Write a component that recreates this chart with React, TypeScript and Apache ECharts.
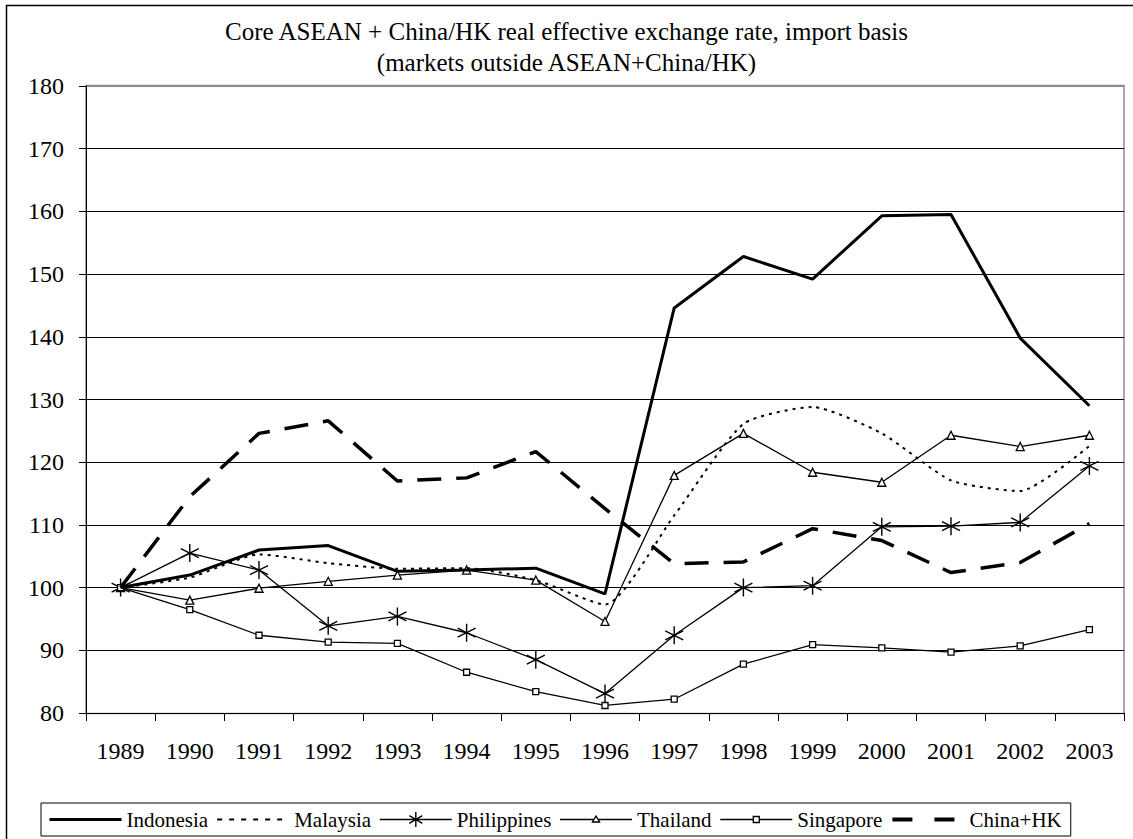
import React, { useEffect, useRef } from "react";
import * as echarts from "echarts";

const years = ["1989","1990","1991","1992","1993","1994","1995","1996","1997","1998","1999","2000","2001","2002","2003"];
const indonesia = [100, 102.0, 106.0, 106.7, 102.6, 102.8, 103.1, 99.0, 144.6, 152.8, 149.2, 159.3, 159.5, 139.8, 129.0];
const malaysia = [100, 101.6, 105.3, 103.9, 103.0, 103.1, 101.2, 97.3, 111.5, 126.1, 128.8, 124.6, 117.1, 115.4, 122.6];
const philippines = [100, 105.5, 102.8, 93.9, 95.4, 92.8, 88.5, 83.1, 92.4, 100.0, 100.3, 109.7, 109.8, 110.4, 119.4];
const thailand = [100, 98.0, 99.9, 101.0, 102.0, 102.8, 101.2, 94.6, 117.9, 124.6, 118.4, 116.8, 124.3, 122.5, 124.3];
const singapore = [100, 96.5, 92.4, 91.3, 91.1, 86.5, 83.4, 81.2, 82.2, 87.8, 90.9, 90.4, 89.7, 90.7, 93.3];
const chinaHK = [100, 114.5, 124.6, 126.6, 117.0, 117.5, 121.7, 112.6, 103.8, 104.1, 109.4, 107.5, 102.4, 104.0, 110.2];

const titleLines = [
  "Core ASEAN + China/HK real effective exchange rate, import basis",
  "(markets outside ASEAN+China/HK)",
];

const FONT = "'Liberation Serif', 'Times New Roman', serif";
const STAR = "path://M5,0 L5,10 M0.7,2.5 L9.3,7.5 M0.7,7.5 L9.3,2.5";

// legend icons, drawn in a 72x16 box (corners fixed by zero-length segments)
const BOX = "M0,0 L0,0 M72,16 L72,16 ";
const ICON_LINE = "path://" + BOX + "M0,8 L72,8";
const ICON_STAR = "path://" + BOX + "M0,8 L72,8 M36,0.5 L36,15.5 M29.5,4.2 L42.5,11.8 M29.5,11.8 L42.5,4.2";
const ICON_TRI = "path://" + BOX + "M0,8 L34,8 M38,8 L72,8 M36,4.5 L39.6,10.5 L32.4,10.5 Z";
const ICON_SQ = "path://" + BOX + "M0,8 L33,8 M39,8 L72,8 M33,5 L39,5 L39,11 L33,11 Z";

export default function App() {
  const ref = useRef<HTMLDivElement>(null);
  useEffect(() => {
    if (!ref.current) return;
    const chart = echarts.init(ref.current, undefined, { renderer: "svg" });
    const gridColors = ["#000", "#000", "#000", "#000", "#000", "#000", "#000", "#000", "#000", "#000", "#8c8c8c"];
    const stroke = (w: number, dash?: number[]) => ({
      color: "transparent",
      borderColor: "#000",
      borderWidth: w,
      borderType: dash || "solid",
    });
    chart.setOption({
      animation: false,
      backgroundColor: "#fff",
      title: {
        text: titleLines.join("\n"),
        left: "center",
        top: 11,
        textStyle: { fontFamily: FONT, fontSize: 25, fontWeight: "normal", color: "#000", lineHeight: 31 },
      },
      graphic: [
        {
          type: "rect",
          shape: { x: 6.5, y: 5.5, width: 1140, height: 840 },
          style: { fill: "none", stroke: "#000", lineWidth: 1.5 },
          silent: true,
          z: -1,
        },
        {
          type: "rect",
          shape: { x: 86, y: 85.5, width: 1038, height: 628 },
          style: { fill: "none", stroke: "#8c8c8c", lineWidth: 1.5 },
          silent: true,
          z: 0,
        },
      ],
      legend: {
        left: 41,
        top: 803,
        padding: [6, 9, 6, 7],
        itemWidth: 72,
        itemHeight: 16,
        itemGap: 8,
        borderColor: "#000",
        borderWidth: 1,
        textStyle: { fontFamily: FONT, fontSize: 21, color: "#000" },
        data: [
          { name: "Indonesia", icon: ICON_LINE, itemStyle: stroke(3) },
          { name: "Malaysia", icon: ICON_LINE, itemStyle: stroke(2, [5, 7]) },
          { name: "Philippines", icon: ICON_STAR, itemStyle: stroke(1.4) },
          { name: "Thailand", icon: ICON_TRI, itemStyle: stroke(1.3) },
          { name: "Singapore", icon: ICON_SQ, itemStyle: stroke(1.3) },
          { name: "China+HK", icon: ICON_LINE, itemStyle: stroke(4, [20, 22]) },
        ],
      },
      grid: { left: 86, top: 86, right: 9, bottom: 126, containLabel: false },
      xAxis: {
        type: "category",
        data: years,
        boundaryGap: true,
        axisLine: { lineStyle: { color: "#000", width: 1 } },
        axisTick: { show: true, length: 8, interval: 0, lineStyle: { color: "#000" } },
        axisLabel: { fontFamily: FONT, fontSize: 24, color: "#000", margin: 26, interval: 0 },
        splitLine: { show: false },
      },
      yAxis: {
        type: "value",
        min: 80,
        max: 180,
        interval: 10,
        axisLine: { show: true, lineStyle: { color: "#000", width: 1 } },
        axisTick: { show: true, length: 7, lineStyle: { color: "#000" } },
        axisLabel: { fontFamily: FONT, fontSize: 24, color: "#000", margin: 22 },
        splitLine: { show: true, lineStyle: { color: gridColors, width: 1.2 } },
      },
      series: [
        {
          name: "Indonesia",
          type: "line",
          data: indonesia,
          symbol: "none",
          lineStyle: { color: "#000", width: 3 },
          itemStyle: { color: "#000" },
          z: 5,
        },
        {
          name: "Malaysia",
          type: "line",
          data: malaysia,
          symbol: "none",
          smooth: 0.2,
          lineStyle: { color: "#000", width: 2, type: [3, 5] },
          itemStyle: { color: "#000" },
          z: 4,
        },
        {
          name: "Philippines",
          type: "line",
          data: philippines,
          symbol: STAR,
          symbolSize: 18,
          showAllSymbol: true,
          lineStyle: { color: "#000", width: 1.3 },
          itemStyle: { color: "#000", borderColor: "#000", borderWidth: 1.4 },
          z: 3,
        },
        {
          name: "Thailand",
          type: "line",
          data: thailand,
          symbol: "triangle",
          symbolSize: 8,
          showAllSymbol: true,
          lineStyle: { color: "#000", width: 1.3 },
          itemStyle: { color: "#fff", borderColor: "#000", borderWidth: 1.3 },
          z: 3,
        },
        {
          name: "Singapore",
          type: "line",
          data: singapore,
          symbol: "rect",
          symbolSize: 6,
          showAllSymbol: true,
          lineStyle: { color: "#000", width: 1.3 },
          itemStyle: { color: "#fff", borderColor: "#000", borderWidth: 1.3 },
          z: 3,
        },
        {
          name: "China+HK",
          type: "line",
          data: chinaHK,
          symbol: "none",
          lineStyle: { color: "#000", width: 3.5, type: [24, 15] },
          itemStyle: { color: "#000" },
          z: 5,
        },
      ],
    });
    return () => chart.dispose();
  }, []);
  return (
    <div
      ref={ref}
      style={{ position: "absolute", left: 0, top: 0, width: 1133, height: 839 }}
    />
  );
}
